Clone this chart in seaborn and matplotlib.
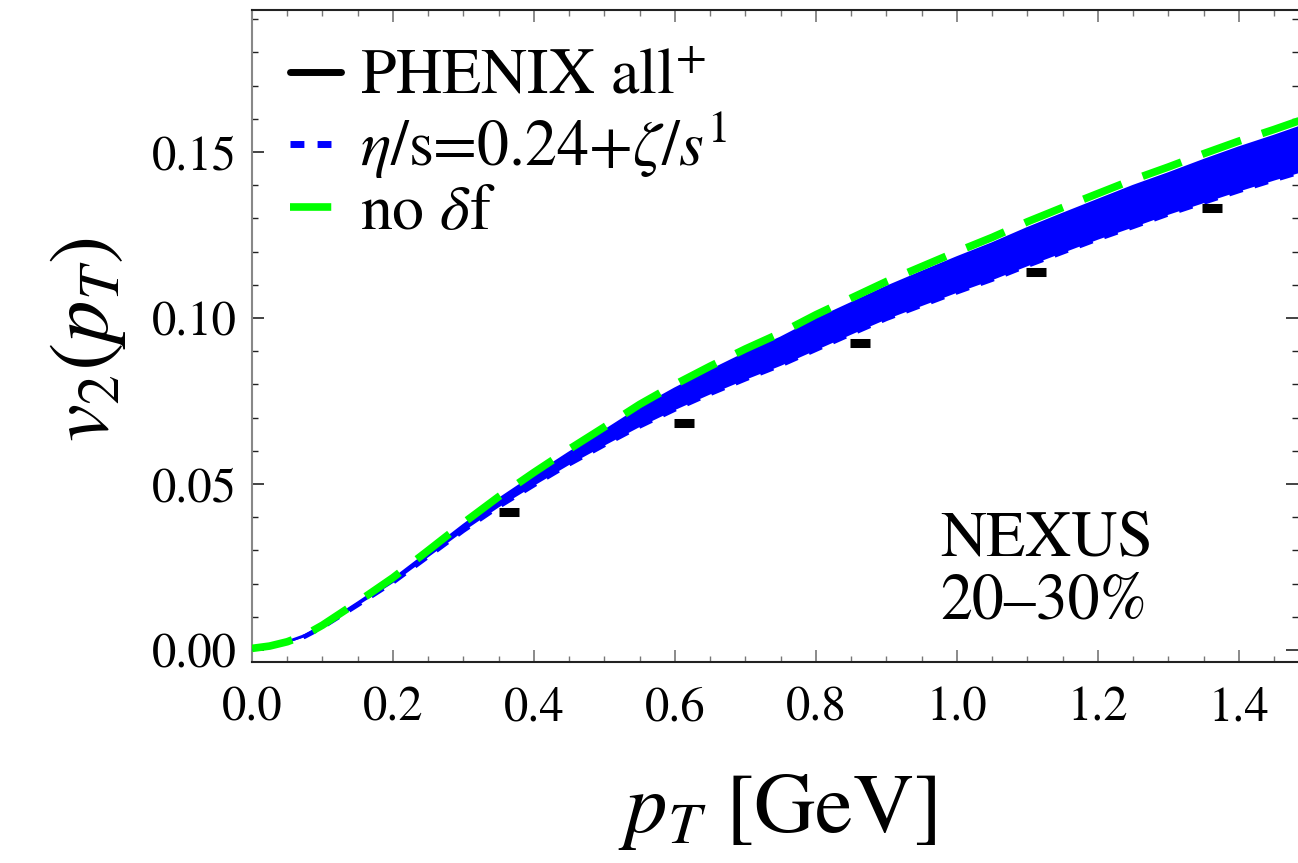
import numpy as np
import pandas as pd
import matplotlib
matplotlib.use("Agg")
import matplotlib.pyplot as plt
import seaborn as sns
from matplotlib.lines import Line2D
from matplotlib.ticker import MultipleLocator

# ---------------- data ----------------
pt = [0.0, 0.025, 0.05, 0.075, 0.1, 0.15, 0.2, 0.25, 0.3, 0.35, 0.4, 0.45, 0.5,
      0.55, 0.6, 0.65, 0.7, 0.75, 0.8, 0.85, 0.9, 0.95, 1.0, 1.05, 1.1, 1.15,
      1.2, 1.25, 1.3, 1.35, 1.4, 1.45, 1.5]
v2_no_df = [0.0005, 0.0012, 0.0025, 0.0045, 0.0075, 0.0145, 0.0218, 0.0300,
            0.0383, 0.0462, 0.0535, 0.0605, 0.0672, 0.0740, 0.0800, 0.0855,
            0.0907, 0.0955, 0.1010, 0.1060, 0.1110, 0.1155, 0.1200, 0.1243,
            0.1290, 0.1333, 0.1375, 0.1417, 0.1455, 0.1495, 0.1533, 0.1568,
            0.1605]
band_upper = [0.0005, 0.0012, 0.0025, 0.0044, 0.0073, 0.0142, 0.0213, 0.0294,
              0.0376, 0.0454, 0.0525, 0.0594, 0.0660, 0.0728, 0.0787, 0.0841,
              0.0893, 0.0940, 0.0995, 0.1044, 0.1093, 0.1138, 0.1182, 0.1224,
              0.1270, 0.1313, 0.1355, 0.1397, 0.1435, 0.1475, 0.1513, 0.1548,
              0.1585]
band_lower = [0.0005, 0.0011, 0.0023, 0.0041, 0.0069, 0.0136, 0.0204, 0.0282,
              0.0360, 0.0432, 0.0497, 0.0560, 0.0618, 0.0674, 0.0725, 0.0772,
              0.0816, 0.0858, 0.0905, 0.0952, 0.0998, 0.1038, 0.1078, 0.1116,
              0.1158, 0.1198, 0.1238, 0.1275, 0.1313, 0.1348, 0.1383, 0.1416,
              0.1448]
phenix_pt = [0.3645, 0.613, 0.862, 1.112, 1.362]
phenix_v2 = [0.0416, 0.0684, 0.0925, 0.1139, 0.1331]

xticks = [0.0, 0.2, 0.4, 0.6, 0.8, 1.0, 1.2, 1.4]
xticklabels = ["0.0", "0.2", "0.4", "0.6", "0.8", "1.0", "1.2", "1.4"]
yticks = [0.00, 0.05, 0.10, 0.15]
yticklabels = ["0.00", "0.05", "0.10", "0.15"]

legend_labels = ["PHENIX all$^{+}$", r"$\eta$/s=0.24+$\zeta/s^{1}$", r"no $\delta$f"]

# ---------------- style ----------------
sns.set_style("ticks")
plt.rcParams["font.family"] = ["STIXGeneral", "DejaVu Serif"]
plt.rcParams["mathtext.fontset"] = "stix"
plt.rcParams["text.color"] = "black"
plt.rcParams["axes.labelcolor"] = "black"
plt.rcParams["xtick.labelcolor"] = "black"
plt.rcParams["ytick.labelcolor"] = "black"

BLUE = "#0000ff"
GREEN = "#00ff00"

W, H = 1298, 863
fig = plt.figure(figsize=(W / 100, H / 100), dpi=100)
ax = fig.add_axes([252 / W, (H - 662) / H, (W - 252) / W, (662 - 10) / H])

df = pd.DataFrame({"pt": pt, "nodf": v2_no_df, "up": band_upper, "lo": band_lower})

# band
ax.fill_between(df["pt"], df["lo"], df["up"], color=BLUE, lw=0, zorder=2)
sns.lineplot(data=df, x="pt", y="lo", ax=ax, color=BLUE, lw=3.4,
             estimator=None, sort=False, zorder=3)
ax.lines[-1].set_dashes([3.0, 2.6])
ax.lines[-1].set_dash_capstyle("butt")
sns.lineplot(data=df, x="pt", y="up", ax=ax, color=BLUE, lw=2.0,
             estimator=None, sort=False, zorder=3)

# no delta f
sns.lineplot(data=df, x="pt", y="nodf", ax=ax, color=GREEN, lw=5.5,
             estimator=None, sort=False, zorder=4)
ax.lines[-1].set_dashes([5.4, 2.9])
ax.lines[-1].set_dash_capstyle("butt")

# PHENIX points
ax.plot(phenix_pt, phenix_v2, ls="none", marker="_", ms=14.5, mew=6.5,
        color="black", zorder=5)

# axes
ax.set_xlim(0, 1.484)
ax.set_ylim(-0.0036, 0.1928)
ax.set_xticks(xticks)
ax.set_xticklabels(xticklabels)
ax.set_yticks(yticks)
ax.set_yticklabels(yticklabels)
ax.xaxis.set_minor_locator(MultipleLocator(0.05))
ax.yaxis.set_minor_locator(MultipleLocator(0.01))
ax.tick_params(axis="both", which="both", direction="in", top=True, right=True,
               labelsize=35)
ax.tick_params(axis="both", which="major", length=8.6, width=1.2)
ax.tick_params(axis="both", which="minor", length=4.3, width=1.0)
ax.tick_params(axis="x", which="both", colors="#777777", labelcolor="black", pad=18)
ax.tick_params(axis="y", which="both", colors="#222222", labelcolor="black", pad=11)
ax.set_xlabel("")
ax.set_ylabel("")
ax.spines["left"].set_color("#888888")
ax.spines["left"].set_linewidth(1.5)
for s in ["bottom", "top"]:
    ax.spines[s].set_color("#222222")
    ax.spines[s].set_linewidth(1.5)
ax.spines["right"].set_visible(False)

# legend
handles = [
    Line2D([], [], color="black", lw=5),
    Line2D([], [], color=BLUE, lw=5, dashes=(2.0, 1.9), dash_capstyle="butt"),
    Line2D([], [], color=GREEN, lw=5.5, dashes=(5.4, 2.9), dash_capstyle="butt"),
]
leg = ax.legend(handles, legend_labels, loc="upper left",
                bbox_to_anchor=(0.036, 0.94), frameon=False, fontsize=46,
                handlelength=0.8, handletextpad=0.3, labelspacing=0.05,
                borderaxespad=0, borderpad=0)
for t in leg.get_texts():
    t.set_color("black")

# annotation
ax.text(0.658, 0.232, "NEXUS\n20\u201330%", transform=ax.transAxes, fontsize=46,
        ha="left", va="top", linespacing=1.1, color="black")

# axis labels
fig.text(88 / W, 1 - 340 / H, r"$v_2(p_T)$", rotation=90, ha="center",
         va="center", fontsize=61, color="black")
fig.text(777 / W, 1 - 812 / H, r"$p_T$ [GeV]", ha="center", va="center",
         fontsize=61, color="black")

fig.savefig("out.png", dpi=100)
